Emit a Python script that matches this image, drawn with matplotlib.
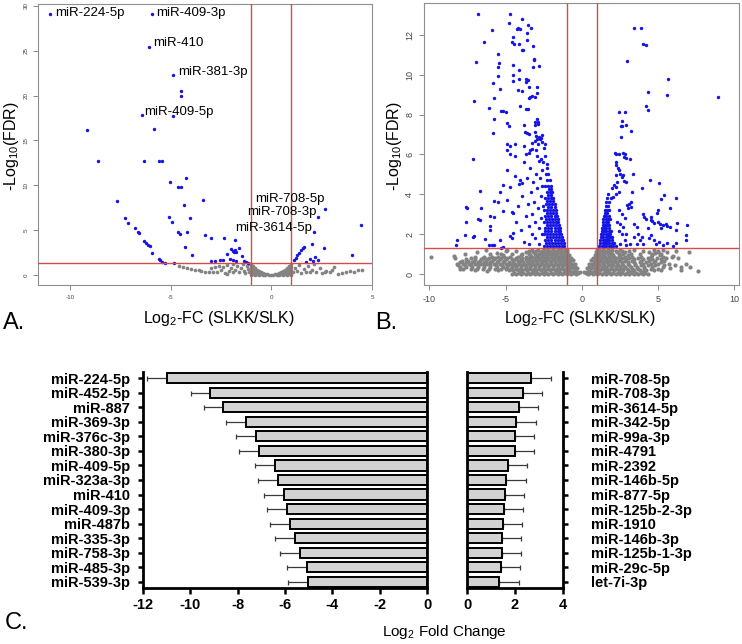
import numpy as np
import matplotlib.pyplot as plt

plt.rcParams['font.family'] = ['Liberation Sans', 'DejaVu Sans']
plt.rcParams['mathtext.default'] = 'regular'
plt.rcParams['axes.unicode_minus'] = False

# ######################################################
# data
# ######################################################

# panel A : small RNA volcano, significant (blue) and not (grey)
A_sig = [(-10.99, 29.1), (-5.92, 29.1), (-6.09, 25.45), (-4.87, 22.26), (-4.5, 20.5), (-4.5, 19.9),
         (-6.44, 17.8), (-4.87, 17.7), (-9.14, 16.2), (-5.81, 16.3), (-8.6, 12.67), (-6.34, 12.67),
         (-5.59, 12.7), (-5.4, 12.7), (-4.22, 10.8), (-5.03, 10.4), (-4.65, 9.85), (-4.47, 9.85),
         (-3.4, 8.4), (-7.66, 8.25), (-4.31, 7.8), (2.66, 7.4), (2.31, 6.43), (2.13, 4.76), (4.44, 5.57),
         (-5.08, 6.5), (-4.04, 6.4), (-4.93, 5.87), (-7.24, 6.35), (-7.1, 5.76), (-6.78, 5.28),
         (-6.63, 4.75), (-6.58, 4.65), (-4.62, 4.75), (-4.55, 4.55), (-4.2, 4.8), (-3.3, 4.5),
         (-2.97, 4.1), (-2.33, 4.1), (-1.78, 3.95), (-6.3, 3.8), (-6.2, 3.6), (-6.1, 3.4), (-6.0, 3.25),
         (-5.92, 2.5), (-4.27, 3.12), (-3.96, 2.2), (-5.57, 1.8), (-5.52, 1.65), (-5.42, 1.5),
         (-5.3, 1.35), (-4.85, 1.4), (-2.54, 1.67), (-2.38, 1.67), (-1.98, 2.9), (-1.9, 2.7),
         (-1.85, 2.6), (-1.8, 2.75), (-1.73, 2.6), (-2.05, 1.8), (-1.9, 1.7), (-1.75, 1.6),
         (-1.62, 2.97), (-1.43, 2.1), (-1.35, 1.6), (-1.25, 1.45), (-1.18, 1.4), (-2.97, 1.55),
         (-2.77, 1.55), (-2.2, 2.3), (1.14, 1.67), (1.22, 1.9), (1.3, 2.2), (1.4, 2.5), (1.5, 2.8),
         (1.56, 3.0), (1.63, 3.1), (1.7, 1.5), (1.9, 1.8), (2.05, 1.6), (2.15, 2.0), (2.3, 1.7),
         (2.0, 3.5), (2.62, 3.0), (4.0, 2.22)]
A_ns = [(-4.6, 1.0), (-4.4, 0.9), (-4.2, 0.8), (-4.0, 0.7), (-3.8, 0.6), (-3.6, 0.55), (-3.5, 0.45),
        (-3.3, 0.4), (-3.1, 0.35), (-2.9, 0.3), (-2.7, 0.3), (-2.5, 0.6), (-2.4, 0.9), (-2.3, 0.25),
        (-2.2, 1.1), (-2.1, 0.5), (-2.0, 0.8), (-1.9, 1.2), (-1.9, 0.3), (-1.8, 0.6), (-1.7, 1.0),
        (-1.6, 0.4), (-1.5, 0.8), (-1.4, 1.2), (-1.35, 0.5), (-1.3, 0.2), (-1.2, 1.0), (-1.15, 0.7),
        (-1.1, 0.4), (-1.05, 1.2), (-2.8, 0.9), (-2.6, 1.0), (-3.0, 0.75), (-2.2, 0.15),
        (-1.0, 1.2), (-1.0, 0.9), (-1.0, 0.6), (-1.0, 0.3), (-1.0, 0.05), (-0.9, 1.0), (-0.9, 0.7),
        (-0.9, 0.4), (-0.9, 0.1), (-0.8, 0.8), (-0.8, 0.55), (-0.8, 0.3), (-0.8, 0.05), (-0.7, 0.62),
        (-0.7, 0.4), (-0.7, 0.15), (-0.6, 0.45), (-0.6, 0.25), (-0.6, 0.05), (-0.5, 0.32), (-0.5, 0.15),
        (-0.4, 0.22), (-0.4, 0.05), (-0.3, 0.14), (-0.3, 0.03), (-0.2, 0.08), (-0.1, 0.04), (0.0, 0.02),
        (0.1, 0.04), (0.2, 0.08), (0.3, 0.14), (0.3, 0.03), (0.4, 0.22), (0.4, 0.05), (0.5, 0.32),
        (0.5, 0.15), (0.6, 0.45), (0.6, 0.25), (0.6, 0.05), (0.7, 0.62), (0.7, 0.4), (0.7, 0.15),
        (0.8, 0.8), (0.8, 0.55), (0.8, 0.3), (0.8, 0.05), (0.9, 1.0), (0.9, 0.7), (0.9, 0.4), (0.9, 0.1),
        (1.0, 1.2), (1.0, 0.9), (1.0, 0.6), (1.0, 0.3), (1.0, 0.05), (1.1, 0.3), (1.2, 0.8), (1.3, 0.5),
        (1.4, 1.1), (1.5, 0.2), (1.6, 0.7), (1.7, 0.4), (1.8, 1.0), (1.9, 0.3), (2.0, 0.6), (2.1, 1.2),
        (2.2, 0.4), (2.4, 0.8), (2.5, 0.2), (2.7, 0.5), (2.66, 0.3), (2.9, 0.3), (3.0, 0.6), (3.1, 0.9),
        (3.3, 0.15), (3.5, 0.25), (3.7, 0.3), (3.9, 0.45), (4.1, 0.35), (4.3, 0.6), (4.5, 0.55)]

A_labels = ['miR-224-5p', 'miR-409-3p', 'miR-410', 'miR-381-3p', 'miR-409-5p',
            'miR-708-5p', 'miR-708-3p', 'miR-3614-5p']
A_label_xy = [(-10.74, 29.15), (-5.69, 29.15), (-5.84, 25.9), (-4.64, 22.67), (-6.29, 18.2),
              (2.62, 8.5), (2.23, 7.0), (2.03, 5.3)]

# panel B : mRNA volcano
B_down = [(-6.8, 13.05), (-4.72, 13.05), (-3.91, 12.78), (-4.79, 12.6), (-4.28, 12.3), (-4.18, 12.35),
          (-4.09, 12.3), (-3.52, 12.5), (-3.36, 12.35), (-5.9, 12.25), (-3.59, 12.08), (-4.5, 11.9),
          (-4.6, 11.66), (-4.48, 11.56), (-4.1, 11.56), (-3.62, 11.72), (-3.21, 11.45), (-6.43, 11.63),
          (-3.96, 11.23), (-3.85, 11.23), (-5.49, 11.04), (-6.95, 10.66), (-5.45, 10.6), (-3.15, 10.78),
          (-3.12, 10.72), (-5.5, 10.37), (-4.5, 10.5), (-3.2, 10.4), (-2.8, 10.45), (-4.1, 10.24),
          (-5.5, 9.96), (-4.5, 9.97), (-4.1, 9.8), (-3.7, 9.8), (-3.55, 9.75), (-4.5, 9.7), (-5.83, 9.6),
          (-3.65, 9.65), (-3.96, 9.2), (-3.5, 9.4), (-2.97, 9.4), (-5.4, 9.27), (-4.2, 9.23), (-2.98, 9.1),
          (-3.4, 8.9), (-3.45, 8.85), (-3.05, 8.88), (-3.25, 8.95), (-5.79, 8.85), (-7.06, 8.7),
          (-6.1, 8.33), (-5.3, 8.2), (-5.2, 8.18), (-5.0, 8.15), (-4.05, 8.45), (-3.65, 8.28),
          (-3.54, 8.3), (-5.8, 7.78), (-2.95, 7.78), (-3.05, 7.65), (-2.9, 7.65), (-4.9, 7.6),
          (-4.8, 7.45), (-3.8, 7.5), (-3.1, 7.5), (-2.9, 7.52), (-5.85, 7.1), (-3.75, 7.15), (-3.6, 7.1),
          (-3.45, 7.05), (-3.1, 7.12), (-3.0, 6.95), (-2.85, 6.9), (-2.7, 6.85), (-2.95, 6.8),
          (-2.75, 6.78), (-2.6, 7.0), (-3.1, 6.7), (-3.25, 6.6), (-2.9, 6.55), (-2.6, 6.65), (-2.4, 6.5),
          (-2.5, 6.3), (-4.9, 6.5), (-4.75, 6.4), (-4.4, 6.55), (-3.8, 6.4),
          (-7.13, 5.79), (-4.9, 6.2), (-4.7, 6.0), (-4.4, 5.9), (-3.65, 6.0), (-3.5, 6.05), (-3.4, 6.2),
          (-3.3, 6.25), (-2.95, 5.9), (-2.7, 5.75), (-2.85, 5.65), (-2.55, 5.6), (-2.4, 5.9), (-2.3, 5.5),
          (-4.9, 5.22), (-5.2, 4.47), (-5.35, 4.12), (-6.7, 4.18), (-4.05, 4.7), (-4.1, 4.5),
          (-3.95, 4.55), (-4.7, 4.35), (-4.9, 3.7), (-5.5, 3.6), (-5.75, 3.65), (-7.6, 3.35),
          (-7.55, 3.3), (-6.6, 3.3), (-5.75, 2.85), (-4.6, 3.1), (-4.5, 3.05), (-5.15, 3.15), (-7.6, 2.62),
          (-6.8, 2.75), (-6.7, 2.72), (-6.0, 2.9), (-6.0, 2.4), (-6.05, 2.2), (-7.1, 1.9), (-7.15, 1.85),
          (-7.68, 1.98), (-8.2, 1.7), (-8.25, 1.45), (-6.37, 1.77), (-6.1, 1.45), (-5.9, 1.45),
          (-5.8, 1.45), (-5.4, 1.72), (-5.3, 1.3), (-5.2, 1.35), (-4.7, 1.9), (-4.6, 1.8), (-4.55, 2.05),
          (-4.3, 2.6), (-4.2, 3.4), (-4.0, 2.2), (-3.9, 3.9), (-3.8, 1.6), (-3.7, 2.9), (-3.6, 4.8),
          (-3.55, 3.5), (-3.5, 2.4), (-3.45, 1.5), (-3.4, 5.3), (-3.35, 4.1), (-3.3, 3.0), (-3.25, 2.0),
          (-3.2, 4.6), (-3.15, 3.6), (-3.1, 2.6), (-3.05, 1.8), (-3.0, 5.0), (-2.95, 4.3), (-2.9, 3.3),
          (-2.85, 2.3), (-2.8, 1.5), (-2.75, 4.8), (-2.7, 3.9), (-2.7, 2.8), (-2.65, 5.2), (-2.6, 2.0),
          (-2.6, 4.4), (-2.55, 3.4), (-3.8, 5.6), (-4.4, 4.9), (-3.0, 6.2),
          # dense wedge next to the -1 cut-off
          (-2.5, 1.4), (-2.3, 1.4), (-2.1, 1.4), (-1.9, 1.4), (-1.7, 1.4), (-1.5, 1.4), (-1.3, 1.4), (-1.15, 1.4),
          (-2.35, 1.55), (-2.15, 1.55), (-1.95, 1.55), (-1.75, 1.55), (-1.55, 1.55), (-1.35, 1.55), (-1.2, 1.55),
          (-2.4, 1.7), (-2.2, 1.7), (-2.0, 1.7), (-1.8, 1.7), (-1.6, 1.7), (-1.4, 1.7), (-1.25, 1.7),
          (-2.3, 1.85), (-2.1, 1.85), (-1.9, 1.85), (-1.7, 1.85), (-1.5, 1.85), (-1.32, 1.85),
          (-2.5, 2.0), (-2.3, 2.0), (-2.1, 2.0), (-1.9, 2.0), (-1.7, 2.0), (-1.5, 2.0), (-1.35, 2.0),
          (-2.4, 2.15), (-2.2, 2.15), (-2.0, 2.15), (-1.8, 2.15), (-1.6, 2.15), (-1.42, 2.15),
          (-2.4, 2.3), (-2.2, 2.3), (-2.0, 2.3), (-1.8, 2.3), (-1.6, 2.3), (-1.45, 2.3),
          (-2.3, 2.45), (-2.1, 2.45), (-1.9, 2.45), (-1.7, 2.45), (-1.52, 2.45),
          (-2.5, 2.6), (-2.3, 2.6), (-2.1, 2.6), (-1.9, 2.6), (-1.7, 2.6), (-1.55, 2.6),
          (-2.35, 2.75), (-2.15, 2.75), (-1.95, 2.75), (-1.75, 2.75), (-1.6, 2.75),
          (-2.4, 2.9), (-2.2, 2.9), (-2.0, 2.9), (-1.8, 2.9), (-1.65, 2.9),
          (-2.3, 3.05), (-2.1, 3.05), (-1.9, 3.05), (-1.7, 3.05),
          (-2.5, 3.2), (-2.3, 3.2), (-2.1, 3.2), (-1.9, 3.2), (-1.72, 3.2),
          (-2.2, 3.35), (-2.0, 3.35), (-1.78, 3.35), (-2.35, 3.5), (-2.15, 3.5), (-1.95, 3.5), (-1.8, 3.5),
          (-2.3, 3.65), (-2.1, 3.65), (-1.9, 3.65), (-2.45, 3.8), (-2.25, 3.8), (-2.05, 3.8), (-1.88, 3.8),
          (-2.2, 3.95), (-2.0, 3.95), (-2.3, 4.1), (-2.1, 4.1), (-1.95, 4.1), (-2.15, 4.25), (-2.0, 4.25),
          (-2.4, 4.4), (-2.2, 4.4), (-2.05, 4.4), (-2.3, 4.7), (-2.12, 4.7), (-2.35, 5.0), (-2.2, 5.0),
          (-2.3, 5.3)]
B_up = [(3.41, 12.35), (3.85, 12.35), (4.0, 11.55), (4.2, 11.5), (2.93, 10.71), (5.66, 9.79),
        (4.31, 9.15), (5.6, 9.0), (8.92, 8.9), (4.2, 8.42), (4.3, 8.22), (2.46, 8.13), (2.83, 8.13),
        (2.6, 7.7), (2.9, 7.5), (2.55, 7.45), (2.6, 7.42), (3.2, 7.2), (2.56, 6.9),
        (2.14, 6.05), (2.2, 6.0), (2.44, 6.0), (2.7, 6.08), (2.8, 6.03), (2.75, 5.85), (3.15, 5.75),
        (2.9, 5.8), (2.2, 5.6), (2.26, 5.45), (2.37, 5.3), (2.43, 5.2), (2.2, 4.95), (2.48, 5.02),
        (2.6, 4.85), (2.7, 4.95), (2.75, 4.65), (2.9, 4.6), (3.36, 5.0), (4.46, 4.7), (5.07, 4.55),
        (3.96, 4.33), (3.3, 4.1), (2.0, 4.3), (2.1, 4.45), (2.2, 4.35), (2.3, 4.6), (2.2, 4.0),
        (2.05, 3.85), (2.45, 4.1), (5.38, 3.97), (5.2, 3.76), (6.15, 3.84), (3.2, 3.6), (3.1, 3.5),
        (2.95, 3.45), (3.05, 3.3), (3.2, 3.38), (5.78, 3.3), (5.0, 3.2), (4.95, 3.05), (4.0, 3.0),
        (4.1, 2.85), (4.2, 2.75), (4.5, 2.85), (4.55, 2.7), (4.6, 2.65), (4.7, 2.55), (5.0, 2.6),
        (5.1, 2.5), (5.3, 2.45), (5.2, 2.3), (5.5, 2.5), (5.6, 2.4), (5.75, 2.35), (6.25, 2.55),
        (6.2, 2.2), (6.9, 2.46), (6.8, 1.95), (6.8, 1.7), (6.2, 1.55), (6.0, 1.4), (3.4, 2.5),
        (3.6, 2.35), (3.7, 2.0), (3.8, 1.7), (3.95, 1.85), (3.4, 1.85), (3.6, 1.5), (4.0, 1.5),
        (4.3, 2.3), (4.4, 1.8), (4.5, 1.95), (4.7, 1.7), (4.85, 1.5), (5.05, 1.6), (5.3, 1.45),
        (5.55, 1.55), (2.5, 2.5), (2.7, 2.35), (2.6, 2.0), (2.9, 2.0), (2.4, 2.15), (2.85, 1.7),
        (3.15, 1.5), (2.5, 1.5), (2.9, 1.45), (2.6, 3.0), (2.4, 3.2), (2.8, 2.8), (2.3, 2.6),
        # dense wedge next to the +1 cut-off
        (1.15, 1.4), (1.3, 1.4), (1.45, 1.4), (1.6, 1.4), (1.75, 1.4), (1.9, 1.4), (2.05, 1.4), (2.2, 1.4),
        (1.2, 1.55), (1.35, 1.55), (1.5, 1.55), (1.65, 1.55), (1.8, 1.55), (1.95, 1.55), (2.1, 1.55),
        (1.2, 1.7), (1.35, 1.7), (1.5, 1.7), (1.65, 1.7), (1.8, 1.7), (1.95, 1.7),
        (1.25, 1.85), (1.4, 1.85), (1.55, 1.85), (1.7, 1.85), (1.85, 1.85), (2.0, 1.85),
        (1.25, 2.0), (1.4, 2.0), (1.55, 2.0), (1.7, 2.0), (1.85, 2.0),
        (1.3, 2.15), (1.45, 2.15), (1.6, 2.15), (1.75, 2.15), (1.9, 2.15),
        (1.3, 2.3), (1.45, 2.3), (1.6, 2.3), (1.75, 2.3), (1.35, 2.45), (1.5, 2.45), (1.65, 2.45), (1.8, 2.45),
        (1.4, 2.6), (1.55, 2.6), (1.7, 2.6), (1.4, 2.75), (1.55, 2.75), (1.7, 2.75), (1.85, 2.75),
        (1.45, 2.9), (1.6, 2.9), (1.75, 2.9), (1.5, 3.05), (1.65, 3.05), (1.5, 3.2), (1.65, 3.2), (1.8, 3.2),
        (1.55, 3.4), (1.7, 3.4), (1.6, 3.6), (1.75, 3.6), (1.65, 3.8), (1.9, 3.8), (1.7, 4.0)]
B_ns = [(-9.9, 0.87), (-8.4, 0.9), (-7.7, 1.0), (-6.9, 1.1), (-6.3, 1.2), (-5.6, 1.05), (-7.0, 0.2),
        (-6.2, 0.15), (-5.5, 0.2), (-8.0, 0.25), (-4.9, 1.2), (-5.2, 0.95),
        (-6.8, 0.35), (-6.4, 0.35), (-6.0, 0.35), (-5.6, 0.35), (-5.2, 0.35),
        (-8.2, 0.5), (-7.8, 0.5), (-7.4, 0.5), (-7.0, 0.5), (-6.6, 0.5), (-6.2, 0.5), (-5.8, 0.5), (-5.4, 0.5), (-5.0, 0.5),
        (-7.9, 0.65), (-7.5, 0.65), (-7.1, 0.65), (-6.7, 0.65), (-6.3, 0.65), (-5.9, 0.65), (-5.5, 0.65), (-5.1, 0.65),
        (-8.3, 0.8), (-7.3, 0.8), (-6.5, 0.8), (-6.1, 0.8), (-5.7, 0.8), (-5.3, 0.8), (-4.9, 0.8),
        (-0.6, 0.1), (-0.6, 0.3), (-0.6, 0.5), (-0.6, 0.7), (-0.45, 0.15), (-0.45, 0.35), (-0.45, 0.52),
        (-0.3, 0.1), (-0.3, 0.3), (-0.15, 0.08), (-0.8, 0.15),
        (6.8, 0.5), (7.1, 0.35), (7.6, 0.15), (6.5, 0.2), (6.0, 0.9), (5.8, 0.3), (4.8, 1.05),
        (0.6, 0.1), (0.6, 0.3), (0.6, 0.5), (0.6, 0.7), (0.45, 0.15), (0.45, 0.35), (0.45, 0.52),
        (0.3, 0.1), (0.3, 0.3), (0.15, 0.08), (0.8, 0.15)]
# bulk of the grey cloud, read row by row: (-log10 FDR, log2 FC values)
B_ns_rows = [
    (0.02, [-4.6, -4.3, -4.0, -3.7, -3.4, -3.1, -2.8, -2.5, -2.2, -1.9, -1.6, -1.3, -1.0, -0.7, -0.4,
            0.4, 0.7, 1.0, 1.3, 1.6, 1.9, 2.2, 2.5, 2.8, 3.1, 3.4, 3.7, 4.0, 4.3]),
    (0.06, [-4.45, -4.15, -3.85, -3.55, -3.25, -2.95, -2.65, -2.35, -2.05, -1.75, -1.45, -1.15, -0.85,
            -0.55, -0.25, 0.25, 0.55, 0.85, 1.15, 1.45, 1.75, 2.05, 2.35, 2.65, 2.95, 3.25, 3.55, 3.85, 4.15]),
    (0.12, [-4.0, -3.2, -2.4, -1.6, -0.9, -0.45, 0.45, 0.9, 1.6, 2.4, 3.2, 4.0]),
    (0.2, [-4.8, -4.5, -4.2, -3.9, -3.6, -3.3, -3.0, -2.7, -2.4, -2.1, -1.8, -1.5, -1.2, -0.95,
           0.95, 1.2, 1.5, 1.8, 2.1, 2.4, 2.7, 3.0, 3.4, 3.8, 4.2, 4.7, 5.2]),
    (0.27, [-7.8, -7.3, -6.9, -6.5, -6.1, -5.7, -5.3, -4.95, -4.65, -4.35, -4.05, -3.75, -3.45, -3.15,
            -2.85, -2.55, -2.25, -1.95, -1.65, -1.35, -1.1, -0.85, 0.85, 1.1, 1.35, 1.65, 1.95, 2.25,
            2.6, 2.95, 3.3, 3.7, 4.1, 4.5, 5.0]),
    (0.35, [-8.0, -7.6, -7.2, -4.9, -4.6, -4.3, -4.0, -3.7, -3.4, -3.1, -2.8, -2.5, -2.2, -1.9, -1.6,
            -1.3, -1.0, -0.8, 0.8, 1.0, 1.3, 1.6, 1.9, 2.2, 2.5, 2.8, 3.2, 3.6, 4.1, 4.6, 5.3, 6.5]),
    (0.43, [-8.1, -7.7, -7.25, -6.85, -6.45, -6.05, -5.65, -5.25, -4.85, -4.55, -4.25, -3.95, -3.65,
            -3.35, -3.05, -2.75, -2.45, -2.15, -1.85, -1.55, -1.25, -0.95, -0.75, 0.75, 0.95, 1.15,
            1.45, 1.75, 2.05, 2.35, 2.7, 3.1, 3.5, 3.9, 4.3, 4.8, 5.4, 6.1]),
    (0.5, [-4.7, -4.4, -4.1, -3.8, -3.5, -3.2, -2.9, -2.6, -2.3, -2.0, -1.7, -1.4, -1.1, -0.9, -0.7,
           0.7, 0.9, 1.1, 1.4, 1.7, 2.0, 2.3, 2.6, 3.0, 3.5, 4.0, 4.5, 5.0, 5.7]),
    (0.58, [-8.0, -7.6, -7.2, -6.8, -6.4, -6.0, -5.6, -5.2, -4.8, -4.5, -4.15, -3.85, -3.55, -3.25,
            -2.95, -2.65, -2.35, -2.05, -1.75, -1.45, -1.15, -0.95, 0.95, 1.15, 1.35, 1.65, 1.95, 2.25,
            2.6, 3.0, 3.4, 3.8, 4.2, 4.7, 5.2]),
    (0.65, [-4.5, -4.2, -3.9, -3.6, -3.3, -3.0, -2.7, -2.4, -2.1, -1.8, -1.5, -1.2, -1.0, -0.8,
            0.8, 1.0, 1.2, 1.5, 1.8, 2.1, 2.4, 2.8, 3.3, 3.9, 4.4, 4.8, 5.4]),
    (0.73, [-7.6, -7.0, -6.6, -6.2, -5.8, -5.4, -5.0, -4.6, -4.3, -4.0, -3.7, -3.4, -3.1, -2.8, -2.5,
            -2.2, -1.9, -1.6, -1.3, -1.05, -0.85, 0.85, 1.05, 1.25, 1.55, 1.85, 2.15, 2.5, 2.9, 3.4,
            4.0, 4.6, 5.2]),
    (0.8, [-4.3, -3.9, -3.5, -3.1, -2.8, -2.5, -2.2, -1.9, -1.6, -1.3, -1.1, -0.9, -0.75,
           0.75, 0.9, 1.1, 1.3, 1.6, 1.9, 2.2, 2.6, 3.1, 3.7, 4.3, 4.9, 5.5, 6.3]),
    (0.88, [-7.0, -6.4, -5.9, -5.5, -5.1, -4.7, -4.2, -3.7, -3.3, -2.9, -2.6, -2.35, -2.05, -1.8,
            -1.5, -1.25, -1.0, 1.0, 1.25, 1.5, 1.8, 2.1, 2.4, 2.8, 3.3, 3.9, 4.5, 5.3, 5.9]),
    (0.95, [-4.0, -3.4, -3.0, -2.6, -2.3, -2.0, -1.7, -1.4, -1.15, -0.95, -0.85,
            0.85, 1.0, 1.2, 1.45, 1.75, 2.05, 2.5, 3.0, 4.6, 5.1]),
    (1.03, [-6.0, -5.3, -4.6, -3.9, -3.5, -3.1, -2.8, -2.5, -2.2, -1.9, -1.65, -1.4, -1.15,
            1.15, 1.4, 1.7, 2.0, 2.4, 2.7, 3.2, 3.8, 4.6, 5.2]),
    (1.1, [-3.7, -3.2, -2.7, -2.4, -2.1, -1.8, -1.5, -1.25, -1.05, -0.95,
           0.95, 1.1, 1.35, 1.6, 1.9, 2.3, 2.8, 4.4, 5.0, 5.6, 7.0]),
    (1.16, [-5.0, -4.3, -3.5, -3.0, -2.6, -2.3, -2.0, -1.75, -1.45, -1.2,
            1.2, 1.5, 1.8, 2.2, 2.6, 3.1, 4.0, 5.0, 6.2]),
    (1.22, [-3.3, -2.9, -2.5, -2.2, -1.9, -1.6, -1.35, -1.1, -1.0,
            1.0, 1.15, 1.4, 1.7, 2.0, 2.5, 3.4, 4.7, 5.3]),
]

# panel C : log2 fold change of top miRNAs
down_names = ['miR-224-5p', 'miR-452-5p', 'miR-887', 'miR-369-3p', 'miR-376c-3p', 'miR-380-3p',
              'miR-409-5p', 'miR-323a-3p', 'miR-410', 'miR-409-3p', 'miR-487b', 'miR-335-3p',
              'miR-758-3p', 'miR-485-3p', 'miR-539-3p']
down_fc = [-10.99, -9.15, -8.62, -7.63, -7.24, -7.10, -6.44, -6.30, -6.06, -5.92, -5.77, -5.58,
           -5.38, -5.07, -5.01]
down_err = [0.84, 0.82, 0.82, 0.85, 0.82, 0.84, 0.84, 0.84, 0.84, 0.83, 0.85, 0.84, 0.85, 0.85, 0.85]

up_names = ['miR-708-5p', 'miR-708-3p', 'miR-3614-5p', 'miR-342-5p', 'miR-99a-3p', 'miR-4791',
            'miR-2392', 'miR-146b-5p', 'miR-877-5p', 'miR-125b-2-3p', 'miR-1910', 'miR-146b-3p',
            'miR-125b-1-3p', 'miR-29c-5p', 'let-7i-3p']
up_fc = [2.68, 2.33, 2.17, 2.06, 2.00, 2.00, 1.71, 1.64, 1.57, 1.54, 1.50, 1.46, 1.44, 1.42, 1.33]
up_err = [0.81, 0.81, 0.80, 0.80, 0.79, 0.79, 0.79, 0.80, 0.79, 0.80, 0.80, 0.80, 0.79, 0.80, 0.82]

fc_cut = 1.0
fdr_line = -np.log10(0.05)

for yv, xs in B_ns_rows:
    B_ns = B_ns + [(xv, yv) for xv in xs]

# ######################################################
# plot
# ######################################################
W, H = 742, 644
fig = plt.figure(figsize=(W / 100, H / 100), dpi=100)


def box(l, t, r, b):
    # pixel box -> figure fraction
    return [l / W, 1 - b / H, (r - l) / W, (b - t) / H]


blue = '#1414e6'
grey = '#838383'
red = '#d64b4b'


def volcano(ax, sig, ns, xlim, ylim, xt, yt, tsize, ns_size):
    ax.scatter([p[0] for p in ns], [p[1] for p in ns], s=ns_size, c=grey, linewidths=0, zorder=2)
    ax.scatter([p[0] for p in sig], [p[1] for p in sig], s=6, c=blue, linewidths=0, zorder=3)
    ax.axvline(-fc_cut, color=red, lw=1.0, zorder=4)
    ax.axvline(fc_cut, color=red, lw=1.0, zorder=4)
    ax.axhline(fdr_line, color=red, lw=1.0, zorder=4)
    ax.set_xlim(xlim)
    ax.set_ylim(ylim)
    ax.set_xticks(xt)
    ax.set_yticks(yt)
    for s in ax.spines.values():
        s.set_color('#8f8f8f')
        s.set_linewidth(0.8)
    ax.tick_params(direction='out', length=3.5, width=0.6, color='#777777',
                   labelsize=tsize, labelcolor='#444444')
    for lab in ax.get_yticklabels():
        lab.set_rotation(90)
        lab.set_va('center')


# A
axA = fig.add_axes(box(38, 4, 372, 285))
volcano(axA, A_sig, A_ns, (-11.58, 4.95), (-1.1, 30.2), [-10, -5, 0, 5], range(0, 31, 5), 4.5, 7)
for name, (tx, ty) in zip(A_labels, A_label_xy):
    ha = 'right' if tx > 0 else 'left'
    axA.text(tx, ty, name, fontsize=9.5, ha=ha, va='center', zorder=5)

# B
axB = fig.add_axes(box(424, 3, 739, 285))
volcano(axB, B_down + B_up, B_ns, (-10.36, 10.3), (-0.55, 13.6), [-10, -5, 0, 5, 10],
        range(0, 13, 2), 6.5, 9)

for xc in [219, 580]:
    fig.text(xc / W, 1 - 318 / H, 'Log$_2$-FC (SLKK/SLK)', fontsize=11.5, ha='center', va='center')
for xc in [12, 395]:
    fig.text(xc / W, 1 - 146 / H, '-Log$_{10}$(FDR)', fontsize=11.5, rotation=90,
             ha='center', va='center')

# C
ypos = np.arange(len(down_names))
axL = fig.add_axes(box(143, 372, 427, 588))
axR = fig.add_axes(box(467, 372, 563, 588))
axR.yaxis.tick_right()

axL.errorbar(down_fc, ypos, xerr=[down_err, np.zeros(len(down_err))], fmt='none',
             ecolor='#3a3a3a', elinewidth=0.9, capsize=1.8, capthick=0.9, zorder=1)
axL.barh(ypos, down_fc, height=0.7, color='#d2d2d2', edgecolor='black', linewidth=1.4, zorder=2)
axR.errorbar(up_fc, ypos, xerr=[np.zeros(len(up_err)), up_err], fmt='none',
             ecolor='#3a3a3a', elinewidth=0.9, capsize=1.8, capthick=0.9, zorder=1)
axR.barh(ypos, up_fc, height=0.7, color='#d2d2d2', edgecolor='black', linewidth=1.4, zorder=2)

axL.set_xlim(-12, 0)
axR.set_xlim(0, 4)
axL.set_xticks(range(-12, 1, 2))
axR.set_xticks([0, 2, 4])
axL.set_xticklabels([str(v) for v in range(-12, 1, 2)], fontweight='bold')
axR.set_xticklabels(['0', '2', '4'], fontweight='bold')
for ax, names in [(axL, down_names), (axR, up_names)]:
    ax.set_ylim(14.42, -0.42)
    ax.set_yticks(ypos)
    ax.set_yticklabels(names, fontweight='bold')
    ax.spines['top'].set_visible(False)
    for k in ['left', 'right', 'bottom']:
        ax.spines[k].set_linewidth(2.0)
    ax.tick_params(axis='x', direction='out', length=4, width=1.8, labelsize=10.5, pad=3)
    ax.tick_params(axis='y', direction='out', length=3.5, width=1.8, labelsize=10.5)

axL.tick_params(axis='y', pad=6)
axR.tick_params(axis='y', pad=17)

fig.text(444 / W, 1 - 632 / H, 'Log$_2$ Fold Change', fontsize=11, ha='center', va='center')

# panel letters
fig.text(3 / W, 1 - 323 / H, 'A.', fontsize=17, va='center')
fig.text(375 / W, 1 - 323 / H, 'B.', fontsize=17, va='center')
fig.text(5 / W, 1 - 623 / H, 'C.', fontsize=17, va='center')

fig.savefig('out.png', dpi=100)
plt.close(fig)
